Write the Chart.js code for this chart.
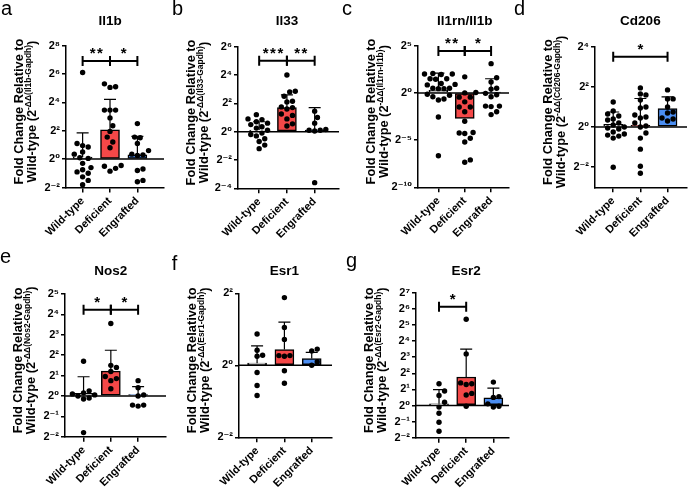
<!DOCTYPE html>
<html>
<head>
<meta charset="utf-8">
<script src="https://cdn.jsdelivr.net/npm/chart.js@4.4.1/dist/chart.umd.min.js"></script>
<style>
  html, body { margin: 0; padding: 0; background: #fff; }
  #fig { position: relative; width: 691px; height: 488px; overflow: hidden; }
  #fig canvas { position: absolute; }
</style>
</head>
<body>
<div id="fig"></div>
<script>
// groups on every panel
const categories = ['Wild-type', 'Deficient', 'Engrafted'];

// all values are log2 fold change (the axis shows 2^n)
const il1bTicks = [-2, 0, 2, 4, 6, 8];
const il1bMean = [0.15, 2.07, 0.3];
const il1bSd = [1.7, 2.13, 1.3];
const il1bWT = [6.1, 1.1, 0.95, 0.85, 0.5, 0.35, 0.1, 0.05, -0.3, -0.6, -0.75, -0.9, -1.0, -1.25, -1.5, -1.8];
const il1bDef = [5.3, 5.1, 5.05, 3.45, 3.45, 3.45, 2.9, 2.35, 1.95, 1.55, 1.2, 0.8, -0.45, -0.5, -0.65, -0.85];
const il1bEng = [2.5, 1.55, 1.5, 1.1, 0.6, 0.35, 0.3, 0.25, -0.7, -0.8, -1.5, -1.6];
const il1bSig = [[0, 1, '**'], [1, 2, '*']];
const il1bSigLevel = 6.9;

const il33Ticks = [-4, -2, 0, 2, 4, 6];
const il33Mean = [0.12, 1.7, 0.12];
const il33Sd = [0.58, 0.9, 1.58];
const il33WT = [1.2, 0.9, 0.85, 0.7, 0.6, 0.5, 0.35, 0.25, 0.1, -0.1, -0.2, -0.3, -0.5, -0.7, -0.95, -1.2];
const il33Def = [4.0, 2.85, 2.8, 2.5, 2.15, 2.1, 1.75, 1.7, 1.6, 1.25, 1.15, 0.9, 0.55, 0.4];
const il33Eng = [1.45, 1.0, 0.6, 0.15, 0.1, 0.1, 0.05, -3.6];
const il33Sig = [[0, 1, '***'], [1, 2, '**']];
const il33SigLevel = 5.0;

const il1rnTicks = [-10, -5, 0, 5];
const il1rnMean = [0.3, -2.7, 0.05];
const il1rnSd = [1.8, null, 1.45];
const il1rnWT = [2.05, 2.0, 2.0, 1.95, 1.5, 1.45, 1.5, 1.0, 0.85, 0.9, 0.45, 0.5, 0.45, 0.5, -0.15, -0.4, -0.25, -0.75, -0.65, -2.55, -6.65];
const il1rnDef = [1.7, 0.05, 0.0, -0.45, -0.45, -0.95, -1.5, -1.5, -2.0, -3.0, -4.3, -4.2, -4.25, -4.8, -5.2, -7.35, -7.1];
const il1rnEng = [3.1, 1.6, 1.15, 0.5, 0.4, -0.05, -0.2, -0.4, -1.4, -1.4, -1.45, -2.0, -2.3];
const il1rnSig = [[0, 1, '**'], [1, 2, '*']];
const il1rnSigLevel = 4.45;

const cd206Ticks = [-2, 0, 2, 4];
const cd206Range = [-3, 4];
const cd206Mean = [0.13, 0.08, 0.92];
const cd206Sd = [0.62, 1.34, 0.58];
const cd206WT = [1.25, 0.8, 0.65, 0.55, 0.35, 0.4, 0.2, 0.1, 0.0, -0.05, -0.1, -0.25, -0.35, -0.4, -0.45, -0.55, -2.0];
const cd206Def = [1.95, 1.65, 1.6, 1.35, 1.0, 0.95, 0.6, 0.5, 0.45, 0.2, 0.05, 0.0, -0.3, -0.55, -1.1, -1.95, -2.3];
const cd206Eng = [1.85, 1.4, 1.4, 1.0, 0.75, 0.7, 0.45, 0.4, 0.3];
const cd206Sig = [[0, 2, '*']];
const cd206SigLevel = 3.5;

const nos2Ticks = [-2, -1, 0, 1, 2, 3, 4, 5];
const nos2Mean = [0.13, 1.22, 0.07];
const nos2Sd = [0.81, 1.02, 0.39];
const nos2WT = [1.7, 0.25, 0.15, 0.1, 0.05, 0.0, -0.1, -0.15, -1.8];
const nos2Def = [3.55, 1.5, 1.4, 1.2, 0.95, 0.85, 0.75, 0.35];
const nos2Eng = [0.75, 0.4, 0.05, 0.0, -0.45, -0.5, -0.45];
const nos2Sig = [[0, 1, '*'], [1, 2, '*']];
const nos2SigLevel = 4.23;

const esr1Ticks = [-2, 0, 2];
const esr1Mean = [0.06, 0.44, 0.19];
const esr1Sd = [0.48, 0.76, 0.17];
const esr1WT = [0.87, 0.42, 0.28, 0.25, -0.2, -0.56, -0.84];
const esr1Def = [1.88, 1.05, 0.72, 0.27, 0.27, 0.25, -0.15, -0.5];
const esr1Eng = [0.45, 0.4, 0.1, 0.0];

const esr2Ticks = [-2, -1, 0, 1, 2, 3, 4, 5, 6, 7];
const esr2Mean = [0.1, 1.77, 0.48];
const esr2Sd = [0.88, 1.73, 0.6];
const esr2WT = [1.35, 0.9, 0.62, 0.2, -0.1, -0.48, -1.04, -1.6];
const esr2Def = [5.35, 3.2, 1.4, 1.35, 1.3, 0.75, 0.65, -0.05];
const esr2Eng = [1.45, 0.55, 0.5, 0.1, -0.05, -0.1];
const esr2Sig = [[0, 1, '*']];
const esr2SigLevel = 6.13;

const barColors = ['#ffffff', '#f44848', '#4b8ef2'];
const FONT = '"Liberation Sans", Arial, "DejaVu Sans", sans-serif';

// page layout of each panel (pixels)
const panels = [
  { letter: 'a', title: 'Il1b', sup: '-ΔΔ(Il1b-Gapdh)', ticks: il1bTicks, mean: il1bMean, sd: il1bSd,
    pts: [il1bWT, il1bDef, il1bEng], sig: il1bSig, sigLevel: il1bSigLevel,
    box: { axisX: 66, rightX: 168, top: 45.5, bottom: 187.5, cat0: 83.3, step: 28.5, lx: 1, ly: 15, row: 0 } },
  { letter: 'b', title: 'Il33', sup: '-ΔΔ(Il33-Gapdh)', ticks: il33Ticks, mean: il33Mean, sd: il33Sd,
    pts: [il33WT, il33Def, il33Eng], sig: il33Sig, sigLevel: il33SigLevel,
    box: { axisX: 238, rightX: 343, top: 46.7, bottom: 188.3, cat0: 260, step: 28.85, lx: 172, ly: 15, row: 0 } },
  { letter: 'c', title: 'Il1rn/Il1b', sup: '-ΔΔ(Il1rn-Il1b)', ticks: il1rnTicks, mean: il1rnMean, sd: il1rnSd,
    pts: [il1rnWT, il1rnDef, il1rnEng], sig: il1rnSig, sigLevel: il1rnSigLevel,
    box: { axisX: 418, rightX: 513, top: 45.7, bottom: 187.3, cat0: 439.3, step: 27.5, lx: 342, ly: 15, row: 0 } },
  { letter: 'd', title: 'Cd206', sup: '-ΔΔ(Cd206-Gapdh)', ticks: cd206Ticks, range: cd206Range, mean: cd206Mean, sd: cd206Sd,
    pts: [cd206WT, cd206Def, cd206Eng], sig: cd206Sig, sigLevel: cd206SigLevel,
    box: { axisX: 595, rightX: 691, top: 46.7, bottom: 187.3, cat0: 614, step: 28.35, lx: 514, ly: 15, row: 0 } },
  { letter: 'e', title: 'Nos2', sup: '-ΔΔ(Nos2-Gapdh)', ticks: nos2Ticks, mean: nos2Mean, sd: nos2Sd,
    pts: [nos2WT, nos2Def, nos2Eng], sig: nos2Sig, sigLevel: nos2SigLevel,
    box: { axisX: 65, rightX: 170, top: 294, bottom: 436.7, cat0: 84.3, step: 28.35, lx: 0, ly: 263, row: 1 } },
  { letter: 'f', title: 'Esr1', sup: '-ΔΔ(Esr1-Gapdh)', ticks: esr1Ticks, mean: esr1Mean, sd: esr1Sd,
    pts: [esr1WT, esr1Def, esr1Eng], sig: [], sigLevel: 0,
    box: { axisX: 239.3, rightX: 337, top: 293.3, bottom: 437.3, cat0: 258.3, step: 28.7, lx: 172, ly: 270, row: 1 } },
  { letter: 'g', title: 'Esr2', sup: '-ΔΔ(Esr2-Gapdh)', ticks: esr2Ticks, mean: esr2Mean, sd: esr2Sd,
    pts: [esr2WT, esr2Def, esr2Eng], sig: esr2Sig, sigLevel: esr2SigLevel,
    box: { axisX: 416, rightX: 513, top: 292.7, bottom: 437.7, cat0: 440, step: 28.35, lx: 346, ly: 267, row: 1 } }
];

const LEFTW = 82;
const ROWH = 244;
const TITLE_Y = [21, 271];

const SUP = { '0': '⁰', '1': '¹', '2': '²', '3': '³', '4': '⁴', '5': '⁵', '6': '⁶', '7': '⁷', '8': '⁸', '9': '⁹', '-': '⁻' };
function pow2Label(v) {
  return '2' + String(v).split('').map(c => SUP[c]).join('');
}

// spread the dots of one group sideways so they do not overlap
function swarm(values, group, box, range) {
  const pxY = (box.bottom - box.top) / (range[1] - range[0]);
  const D = 5.8;
  const placed = [];
  const out = [];
  values.slice().sort((a, b) => a - b).forEach(v => {
    const py = v * pxY;
    let off = 0;
    for (let k = 0; k < 30; k++) {
      const cand = k === 0 ? 0 : (k % 2 ? 1 : -1) * Math.ceil(k / 2) * D * 0.5;
      if (placed.every(q => (q.x - cand) ** 2 + (q.y - py) ** 2 >= D * D)) { off = cand; break; }
    }
    placed.push({ x: off, y: py });
    out.push({ x: group + off / box.step, y: v });
  });
  return out;
}

const decor = {
  id: 'decor',
  afterDatasetDraw(chart, args) {
    if (args.index !== 0) return;
    const p = chart.canvas._panel;
    const ctx = chart.ctx, xs = chart.scales.x, ys = chart.scales.y, a = chart.chartArea;
    ctx.save();
    ctx.strokeStyle = '#000';
    ctx.lineWidth = 1.2;
    p.mean.forEach((m, i) => {
      const s = p.sd[i];
      if (s == null) return;
      const x = xs.getPixelForValue(i);
      const dir = m < 0 ? -1 : 1;
      const yA = ys.getPixelForValue(m), yB = ys.getPixelForValue(m + dir * s);
      ctx.beginPath();
      ctx.moveTo(x, yA); ctx.lineTo(x, yB);
      ctx.moveTo(x - 6, yB); ctx.lineTo(x + 6, yB);
      ctx.stroke();
    });
    // 2^0 baseline
    ctx.lineWidth = 1.5;
    const y0 = ys.getPixelForValue(0);
    ctx.beginPath(); ctx.moveTo(a.left, y0); ctx.lineTo(a.right, y0); ctx.stroke();
    ctx.restore();
  },
  afterDraw(chart) {
    const p = chart.canvas._panel;
    const b = p.box;
    const ctx = chart.ctx, xs = chart.scales.x, ys = chart.scales.y, a = chart.chartArea;
    const ox = b.axisX - LEFTW, oy = b.row * ROWH;
    ctx.save();
    ctx.fillStyle = '#000';
    ctx.strokeStyle = '#000';

    // panel letter
    ctx.font = '20px ' + FONT;
    ctx.textAlign = 'left';
    ctx.textBaseline = 'alphabetic';
    ctx.fillText(p.letter, b.lx - ox, b.ly - oy);

    // gene title
    ctx.font = 'bold 13.5px ' + FONT;
    ctx.textAlign = 'center';
    ctx.textBaseline = 'middle';
    ctx.fillText(p.title, xs.getPixelForValue(1), TITLE_Y[b.row] - oy);

    // y axis title, two rotated lines
    const cy = (a.top + a.bottom) / 2 - 5;
    const big = 'bold 12.8px ' + FONT, small = 'bold 8.5px ' + FONT;
    ctx.save();
    ctx.translate(a.left - 48, cy);
    ctx.rotate(-Math.PI / 2);
    ctx.font = big;
    ctx.textBaseline = 'alphabetic';
    ctx.fillText('Fold Change Relative to', 0, 4.5);
    ctx.restore();

    ctx.save();
    ctx.translate(a.left - 34.5, cy);
    ctx.rotate(-Math.PI / 2);
    ctx.textAlign = 'left';
    ctx.textBaseline = 'alphabetic';
    const segs = [['Wild-type (2', big, 0], [p.sup, small, -5], [')', big, 0]];
    let total = 0;
    segs.forEach(s => { ctx.font = s[1]; total += ctx.measureText(s[0]).width; });
    let x = -total / 2;
    segs.forEach(s => {
      ctx.font = s[1];
      ctx.fillText(s[0], x, 4.5 + s[2]);
      x += ctx.measureText(s[0]).width;
    });
    ctx.restore();

    // significance brackets
    ctx.lineWidth = 2;
    p.sig.forEach(([i, j, label]) => {
      const x1 = xs.getPixelForValue(i), x2 = xs.getPixelForValue(j);
      const y = ys.getPixelForValue(p.sigLevel);
      ctx.beginPath();
      ctx.moveTo(x1, y); ctx.lineTo(x2, y);
      ctx.moveTo(x1, y - 5); ctx.lineTo(x1, y + 5);
      ctx.moveTo(x2, y - 5); ctx.lineTo(x2, y + 5);
      ctx.stroke();
      ctx.font = 'bold 15px ' + FONT;
      ctx.letterSpacing = '1.5px';
      ctx.textAlign = 'center';
      ctx.textBaseline = 'alphabetic';
      ctx.fillText(label, (x1 + x2) / 2 + 0.75, y - 3);
      ctx.letterSpacing = '0px';
    });
    ctx.restore();
  }
};

const fig = document.getElementById('fig');

panels.forEach(p => {
  const b = p.box;
  const range = p.range || [p.ticks[0], p.ticks[p.ticks.length - 1]];
  const left = b.axisX - LEFTW;
  const top = b.row * ROWH;
  const width = b.rightX - left;
  const height = b.row === 0 ? ROWH : 488 - ROWH;

  const canvas = document.createElement('canvas');
  canvas.width = width;
  canvas.height = height;
  canvas.style.left = left + 'px';
  canvas.style.top = top + 'px';
  canvas._panel = p;
  fig.appendChild(canvas);

  const dots = [];
  p.pts.forEach((vals, g) => swarm(vals, g, b, range).forEach(d => dots.push(d)));

  new Chart(canvas, {
    type: 'bar',
    data: {
      datasets: [
        {
          type: 'bar',
          data: p.mean.map((m, i) => ({ x: i, y: m })),
          backgroundColor: barColors,
          borderColor: '#000',
          borderWidth: 1.5,
          borderSkipped: false,
          barThickness: 19,
          order: 2
        },
        {
          type: 'scatter',
          data: dots,
          pointRadius: 2.7,
          pointBackgroundColor: '#000',
          pointBorderWidth: 0,
          order: 1
        }
      ]
    },
    options: {
      responsive: false,
      animation: false,
      events: [],
      layout: { padding: { top: b.top - top, left: 0, right: 0, bottom: 0 } },
      plugins: { legend: { display: false }, tooltip: { enabled: false }, title: { display: false } },
      scales: {
        x: {
          type: 'linear',
          offset: false,
          min: -(b.cat0 - b.axisX) / b.step,
          max: (b.rightX - b.cat0) / b.step,
          afterBuildTicks: s => { s.ticks = [0, 1, 2].map(v => ({ value: v })); },
          afterFit: s => { s.height = height - (b.bottom - top); },
          grid: { offset: false, drawOnChartArea: false, drawTicks: true, tickLength: 5, color: '#000', lineWidth: 1.5 },
          border: { color: '#000', width: 1.5 },
          ticks: {
            autoSkip: false, minRotation: 45, maxRotation: 45, padding: 2, color: '#000',
            font: { family: FONT, size: 11, weight: 'bold' },
            callback: v => categories[v]
          }
        },
        y: {
          type: 'linear',
          min: range[0],
          max: range[1],
          afterBuildTicks: s => { s.ticks = p.ticks.map(v => ({ value: v })); },
          afterFit: s => { s.width = LEFTW; },
          grid: { drawOnChartArea: false, drawTicks: true, tickLength: 4, color: '#000', lineWidth: 1.5 },
          border: { color: '#000', width: 1.5 },
          ticks: {
            autoSkip: false, padding: 2, color: '#000',
            font: { family: FONT, size: 11, weight: 'bold' },
            callback: v => pow2Label(v)
          }
        }
      }
    },
    plugins: [decor]
  });
});
</script>
</body>
</html>
